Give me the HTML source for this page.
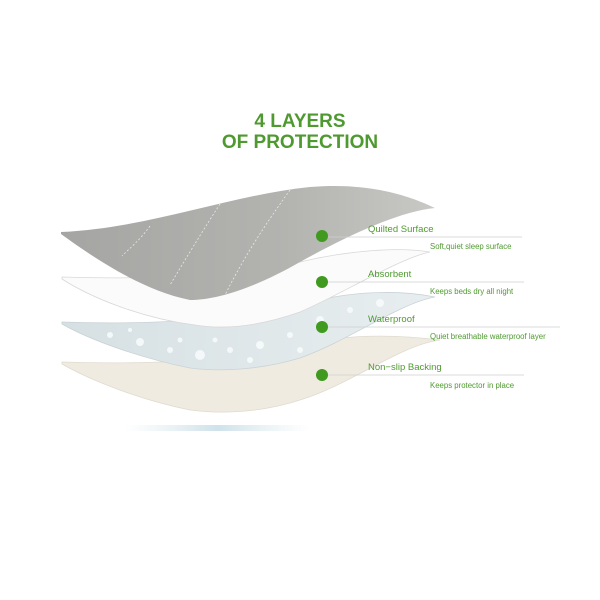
<!DOCTYPE html>
<html><head><meta charset="utf-8"><style>
html,body{margin:0;padding:0;background:#fff;}
svg{display:block}
</style></head><body>
<svg width="600" height="600" viewBox="0 0 600 600" xmlns="http://www.w3.org/2000/svg">
<defs>
<linearGradient id="g1" x1="0" y1="0" x2="1" y2="0"><stop offset="0" stop-color="#a5a5a3"/><stop offset="0.6" stop-color="#b3b3b0"/><stop offset="1" stop-color="#c8c8c5"/></linearGradient>
<linearGradient id="g3" x1="0" y1="0" x2="1" y2="0"><stop offset="0" stop-color="#d6e0e3"/><stop offset="1" stop-color="#e8eef0"/></linearGradient>
<linearGradient id="sh" x1="0" y1="0" x2="1" y2="0"><stop offset="0" stop-color="#dbe9ee" stop-opacity="0"/><stop offset="0.5" stop-color="#cfe2ea"/><stop offset="1" stop-color="#dbe9ee" stop-opacity="0"/></linearGradient>
</defs>
<text x="300" y="127" text-anchor="middle" font-family="Liberation Sans, sans-serif" font-weight="bold" font-size="19" fill="#4f9a30">4 LAYERS</text>
<text x="300" y="148" text-anchor="middle" font-family="Liberation Sans, sans-serif" font-weight="bold" font-size="19" fill="#4f9a30">OF PROTECTION</text>
<rect x="125" y="425" width="185" height="6" fill="url(#sh)"/>
<path d="M62,362 C150,365 250,360 300,345 C350,333 400,335 440,340 C400,345 350,385 300,400 C260,413 220,414 190,410 C140,400 90,380 62,364 Z" fill="#f0ebe1" stroke="#e0dbd0" stroke-width="0.8"/>
<path d="M62,322 C150,325 240,320 300,305 C350,290 400,290 435,297 C400,303 350,340 300,358 C260,370 220,372 190,368 C140,358 90,340 62,324 Z" fill="url(#g3)" stroke="#c9d3d6" stroke-width="0.8"/>
<g fill="#f7fbfc" opacity="0.9">
<circle cx="110" cy="335" r="3"/><circle cx="140" cy="342" r="4"/><circle cx="170" cy="350" r="3"/><circle cx="200" cy="355" r="5"/><circle cx="230" cy="350" r="3"/><circle cx="260" cy="345" r="4"/><circle cx="290" cy="335" r="3"/><circle cx="250" cy="360" r="3"/><circle cx="180" cy="340" r="2.5"/><circle cx="320" cy="320" r="4"/><circle cx="350" cy="310" r="3"/><circle cx="380" cy="303" r="4"/><circle cx="215" cy="340" r="2.5"/><circle cx="130" cy="330" r="2"/><circle cx="300" cy="350" r="3"/>
</g>
<path d="M62,277 C150,280 240,275 300,262 C350,250 400,247 430,252 C400,258 340,295 300,312 C260,326 225,330 195,325 C140,318 90,297 62,279 Z" fill="#fbfbfb" stroke="#d8d8d8" stroke-width="0.8"/>
<path d="M61,232 C150,228 230,195 310,187 C370,182 410,196 435,208 C395,212 340,240 300,262 C260,285 220,300 190,300 C140,290 90,255 61,234 Z" fill="url(#g1)"/>
<g stroke="#e8e8e6" stroke-width="0.8" stroke-dasharray="2,2" fill="none">
<path d="M150,226 C140,240 130,248 122,256"/><path d="M220,204 C200,235 185,260 170,285"/><path d="M290,190 C265,225 245,255 225,295"/>
</g>
<g fill="#3f9a1f">
<circle cx="322" cy="236" r="6"/><circle cx="322" cy="282" r="6"/><circle cx="322" cy="327" r="6"/><circle cx="322" cy="375" r="6"/>
</g>
<g stroke="#cfcfcf" stroke-width="0.8">
<line x1="328" y1="237" x2="522" y2="237"/><line x1="328" y1="282" x2="524" y2="282"/><line x1="328" y1="327" x2="560" y2="327"/><line x1="328" y1="375" x2="524" y2="375"/>
</g>
<g font-family="Liberation Sans, sans-serif" fill="#4f9a30">
<text x="368" y="232" font-size="9.5">Quilted Surface</text>
<text x="430" y="249" font-size="7.8">Soft,quiet sleep surface</text>
<text x="368" y="277" font-size="9.5">Absorbent</text>
<text x="430" y="294" font-size="7.8">Keeps beds dry all night</text>
<text x="368" y="322" font-size="9.5">Waterproof</text>
<text x="430" y="339" font-size="7.8">Quiet breathable waterproof layer</text>
<text x="368" y="370" font-size="9.5">Non−slip Backing</text>
<text x="430" y="388" font-size="7.8">Keeps protector in place</text>
</g>
</svg>
</body></html>
